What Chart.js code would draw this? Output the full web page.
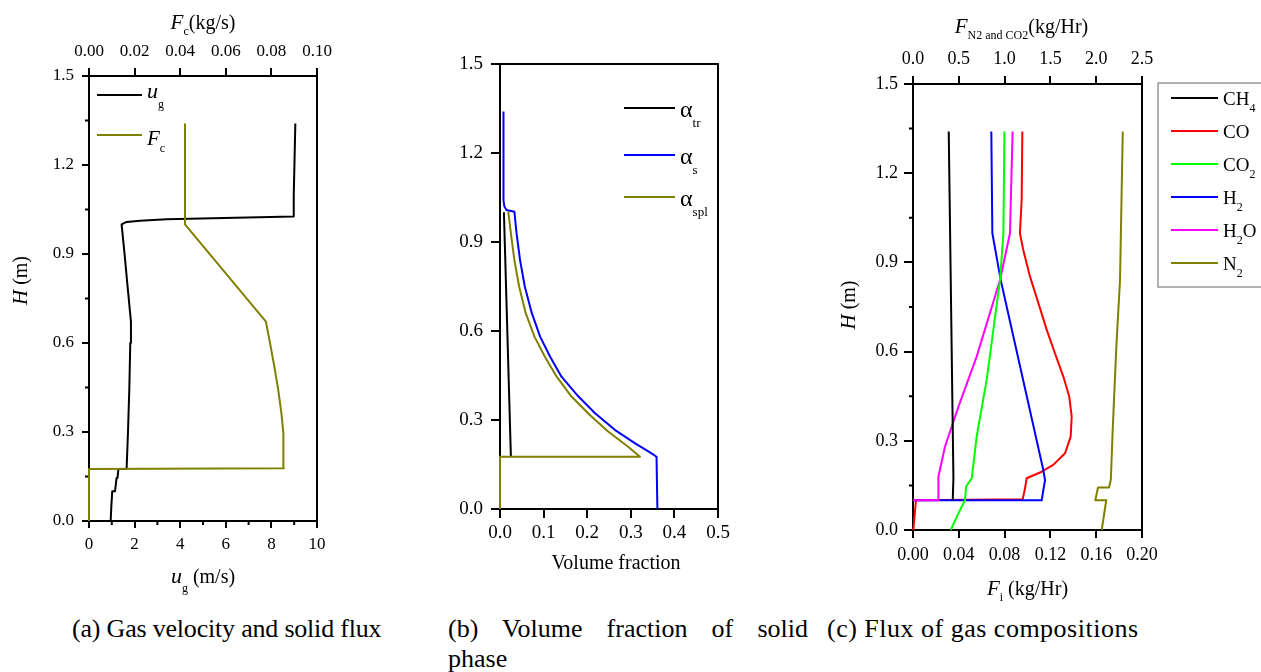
<!DOCTYPE html>
<html>
<head>
<meta charset="utf-8">
<script src="https://cdn.jsdelivr.net/npm/chart.js@4.4.0/dist/chart.umd.min.js"></script>
<style>
  body { margin: 0; background: #fff; width: 1261px; height: 672px; overflow: hidden; position: relative; font-family: 'Liberation Serif', serif; }
  canvas { position: absolute; top: 0; }
  .cap { position: absolute; font-size: 26px; line-height: 30px; color: #000; white-space: nowrap; }
</style>
</head>
<body>
<canvas id="chartA" width="340" height="605" style="left:0px"></canvas>
<canvas id="chartB" width="330" height="605" style="left:420px"></canvas>
<canvas id="chartC" width="461" height="605" style="left:800px"></canvas>
<div class="cap" style="left:72px;top:614px;letter-spacing:-0.2px">(a) Gas velocity and solid flux</div>
<div class="cap" style="left:448px;top:614px;width:360px;text-align:justify;text-align-last:justify;white-space:normal">(b) Volume fraction of solid</div>
<div class="cap" style="left:448px;top:644px">phase</div>
<div class="cap" style="left:827px;top:614px;letter-spacing:0.5px">(c) Flux of gas compositions</div>
<script>
// (a) gas velocity (m/s, bottom axis) and solid flux (kg/s, top axis) vs height H (m)
const ugHeight = [0, 0.05, 0.10, 0.10, 0.145, 0.145, 0.175, 0.175, 0.30, 0.45, 0.60, 0.672, 0.80, 0.90, 1.00, 1.008, 1.012, 1.017, 1.026, 1.10, 1.20, 1.34];
const ugVel    = [0.95, 0.98, 1.02, 1.14, 1.21, 1.25, 1.29, 1.65, 1.71, 1.77, 1.81, 1.84, 1.68, 1.56, 1.43, 1.65, 2.24, 3.4, 8.96, 8.98, 9.01, 9.05];
const fcHeight = [0, 0.175, 0.178, 0.228, 0.296, 0.363, 0.442, 0.520, 0.599, 0.672, 1.00, 1.34];
const fcFlux   = [0, 0, 0.0855, 0.0854, 0.0851, 0.0844, 0.0830, 0.0813, 0.0794, 0.0776, 0.0421, 0.0421];

// (b) volume fractions vs H
const trHeight  = [0.176, 1.00];
const trFrac    = [0.025, 0.009];
const sHeight   = [0, 0.176, 0.191, 0.221, 0.266, 0.323, 0.379, 0.446, 0.513, 0.581, 0.660, 0.749, 0.839, 0.929, 1.002, 1.008, 1.02, 1.04, 1.34];
const sFrac     = [0.361, 0.359, 0.344, 0.310, 0.264, 0.218, 0.180, 0.141, 0.115, 0.092, 0.073, 0.057, 0.046, 0.038, 0.033, 0.015, 0.010, 0.008, 0.008];
const splHeight = [0, 0.176, 0.176, 0.210, 0.261, 0.317, 0.379, 0.446, 0.513, 0.581, 0.660, 0.749, 0.839, 0.929, 1.002];
const splFrac   = [0, 0, 0.321, 0.294, 0.248, 0.206, 0.164, 0.130, 0.103, 0.079, 0.059, 0.044, 0.033, 0.025, 0.019];

// (c) gas flux vs H; CH4, CO, H2, H2O on bottom axis (kg/Hr), CO2 and N2 on top axis
const ch4H = [0.10, 0.175, 1.34];
const ch4F = [0.0347, 0.0353, 0.0312];
const coH  = [0, 0.10, 0.103, 0.140, 0.174, 0.196, 0.219, 0.258, 0.314, 0.381, 0.448, 0.516, 0.594, 0.673, 0.763, 0.852, 0.942, 0.998, 1.11, 1.34];
const coF  = [0.0003, 0.0026, 0.0958, 0.0978, 0.0993, 0.1124, 0.1225, 0.1328, 0.1377, 0.1386, 0.1365, 0.1313, 0.1240, 0.1168, 0.1095, 0.1022, 0.0963, 0.0934, 0.0949, 0.0955];
const co2H = [0, 0.056, 0.101, 0.146, 0.174, 0.314, 0.505, 0.841, 0.998, 1.34];
const co2F = [0.411, 0.496, 0.568, 0.579, 0.641, 0.695, 0.804, 0.95, 0.987, 0.998];
const h2H  = [0.10, 0.10, 0.168, 0.202, 0.841, 0.998, 1.34];
const h2F  = [0, 0.1124, 0.1153, 0.1138, 0.0766, 0.0693, 0.0684];
const h2oH = [0.10, 0.10, 0.179, 0.280, 0.415, 0.583, 0.841, 0.998, 1.34];
const h2oF = [0, 0.0222, 0.0222, 0.0279, 0.0397, 0.0556, 0.076, 0.0847, 0.0870];
const n2H  = [0, 0.10, 0.10, 0.143, 0.143, 0.170, 0.336, 0.617, 0.841, 1.34];
const n2F  = [2.06, 2.11, 1.99, 2.02, 2.14, 2.16, 2.18, 2.22, 2.26, 2.29];

// legend labels of (c): [main, subscript, tail]
const gasLabels = [['CH', '4', ''], ['CO', '', ''], ['CO', '2', ''], ['H', '2', ''], ['H', '2', 'O'], ['N', '2', '']];
const gasColors = ['#000000', '#ff0000', '#00ff00', '#0000ff', '#ff00ff', '#808000'];

const SERIF = "'Liberation Serif', 'Times New Roman', serif";
Chart.defaults.font.family = SERIF;
Chart.defaults.color = '#000';

// text with subscripts, segs = [{t, f, dy}]
function rich(ctx, segs, x, y, align) {
    let w = 0;
    segs.forEach(s => { ctx.font = s.f; s.w = ctx.measureText(s.t).width; w += s.w; });
    let cx = align === 'center' ? x - w / 2 : x;
    ctx.textAlign = 'left';
    ctx.textBaseline = 'alphabetic';
    ctx.fillStyle = '#000';
    segs.forEach(s => { ctx.font = s.f; ctx.fillText(s.t, cx, y + (s.dy || 0)); cx += s.w; });
}
function vertTitle(ctx, segs, x, y) {
    ctx.save();
    ctx.translate(x, y);
    ctx.rotate(-Math.PI / 2);
    rich(ctx, segs, 0, 0, 'center');
    ctx.restore();
}
function legLine(ctx, x1, x2, y, color) {
    ctx.strokeStyle = color; ctx.lineWidth = 2;
    ctx.beginPath(); ctx.moveTo(x1, y); ctx.lineTo(x2, y); ctx.stroke();
}

function axis(pos, min, max, step, dec, size, tickLen, pad, fit) {
    return {
        type: 'linear', position: pos, min: min, max: max,
        border: { display: false },
        grid: { drawOnChartArea: false, drawTicks: true, tickLength: tickLen, color: '#000', lineWidth: 2 },
        ticks: { stepSize: step, padding: pad, color: '#000', font: { family: SERIF, size: size }, maxRotation: 0, autoSkip: false,
                 callback: v => Number(v).toFixed(dec) },
        afterFit: s => { if (pos === 'left') s.width = fit; else s.height = fit; }
    };
}

function line(label, xs, ys, color, xAxisID, order) {
    return {
        label: label, data: xs.map((x, i) => ({ x: x, y: ys[i] })),
        borderColor: color, borderWidth: 2, pointRadius: 0, fill: false, tension: 0,
        borderJoinStyle: 'round',
        xAxisID: xAxisID, yAxisID: 'y', clip: 6, order: order
    };
}

// frame, minor ticks and hand drawn titles / legends
function extras(minor, draw) {
    return {
        id: 'extras',
        beforeDatasetsDraw(chart) {
            const ctx = chart.ctx, a = chart.chartArea;
            ctx.save();
            ctx.strokeStyle = '#000'; ctx.lineWidth = 2;
            ctx.strokeRect(a.left, a.top, a.right - a.left, a.bottom - a.top);
            minor.forEach(m => {
                const sc = chart.scales[m.id];
                ctx.beginPath();
                for (let v = sc.min + m.step; v < sc.max; v += 2 * m.step) {
                    const p = sc.getPixelForValue(v);
                    if (sc.isHorizontal()) { ctx.moveTo(p, a.bottom); ctx.lineTo(p, a.bottom + m.len); }
                    else { ctx.moveTo(a.left, p); ctx.lineTo(a.left - m.len, p); }
                }
                ctx.stroke();
            });
            ctx.restore();
        },
        afterDraw(chart) {
            const ctx = chart.ctx;
            ctx.save();
            draw(ctx, chart.chartArea, chart);
            ctx.restore();
        }
    };
}

function baseOptions(scales, padding) {
    return {
        responsive: false, devicePixelRatio: 1, animation: false, events: [],
        layout: { padding: padding },
        plugins: { legend: { display: false }, tooltip: { enabled: false } },
        scales: scales
    };
}

const f20 = '20px ' + SERIF, i21 = 'italic 21px ' + SERIF, s12 = '12px ' + SERIF;

// ---------- (a)
new Chart(document.getElementById('chartA'), {
    type: 'line',
    data: { datasets: [
        line('Fc', fcFlux, fcHeight, '#808000', 'x2', 0),
        line('ug', ugVel, ugHeight, '#000000', 'x', 1)
    ] },
    options: baseOptions({
        x:  axis('bottom', 0, 10, 2, 0, 17, 7, 6, 84),
        x2: axis('top', 0, 0.1, 0.02, 2, 17, 8, 6, 76),
        y:  axis('left', 0, 1.5, 0.3, 1, 17, 7, 8, 89)
    }, { left: 0, right: 23, top: 0, bottom: 0 }),
    plugins: [extras([{ id: 'y', step: 0.15, len: 4 }, { id: 'x', step: 1, len: 4 }], (ctx, a) => {
        const cx = (a.left + a.right) / 2, cy = (a.top + a.bottom) / 2;
        rich(ctx, [{ t: 'F', f: i21 }, { t: 'c', f: s12, dy: 6 }, { t: '(kg/s)', f: f20 }], cx, a.top - 47, 'center');
        rich(ctx, [{ t: 'u', f: 'italic 22px ' + SERIF }, { t: 'g', f: s12, dy: 9 }, { t: ' (m/s)', f: f20 }], cx, a.bottom + 62, 'center');
        vertTitle(ctx, [{ t: 'H', f: i21 }, { t: ' (m)', f: f20 }], a.left - 62, cy - 18);
        legLine(ctx, a.left + 8, a.left + 53, a.top + 19, '#000');
        rich(ctx, [{ t: 'u', f: 'italic 22px ' + SERIF }, { t: 'g', f: s12, dy: 10 }], a.left + 58, a.top + 22);
        legLine(ctx, a.left + 8, a.left + 53, a.top + 59, '#808000');
        rich(ctx, [{ t: 'F', f: i21 }, { t: 'c', f: s12, dy: 7 }], a.left + 58, a.top + 69);
    })]
});

// ---------- (b)
new Chart(document.getElementById('chartB'), {
    type: 'line',
    data: { datasets: [
        line('a_spl', splFrac, splHeight, '#808000', 'x', 0),
        line('a_s', sFrac, sHeight, '#0000ff', 'x', 1),
        line('a_tr', trFrac, trHeight, '#000000', 'x', 2)
    ] },
    options: baseOptions({
        x: axis('bottom', 0, 0.5, 0.1, 1, 19, 9, 4, 96),
        y: axis('left', 0, 1.5, 0.3, 1, 19, 9, 8, 80)
    }, { left: 0, right: 32, top: 64, bottom: 0 }),
    plugins: [extras([], (ctx, a) => {
        const cx = (a.left + a.right) / 2;
        rich(ctx, [{ t: 'Volume fraction', f: f20 }], cx + 7, a.bottom + 60, 'center');
        const alpha = '24px ' + SERIF, sub = '13px ' + SERIF;
        [['tr', '#000000', 44], ['s', '#0000ff', 91], ['spl', '#808000', 133]].forEach(r => {
            legLine(ctx, a.left + 124, a.left + 175, a.top + r[2], r[1]);
            rich(ctx, [{ t: 'α', f: alpha }, { t: r[0], f: sub, dy: 10 }], a.left + 180, a.top + r[2] + 9);
        });
    })]
});

// ---------- (c)
new Chart(document.getElementById('chartC'), {
    type: 'line',
    data: { datasets: [
        line('CH4', ch4F, ch4H, gasColors[0], 'x', 0),
        line('CO', coF, coH, gasColors[1], 'x', 4),
        line('CO2', co2F, co2H, gasColors[2], 'x2', 1),
        line('H2', h2F, h2H, gasColors[3], 'x', 3),
        line('H2O', h2oF, h2oH, gasColors[4], 'x', 2),
        line('N2', n2F, n2H, gasColors[5], 'x2', 0)
    ] },
    options: baseOptions({
        x:  axis('bottom', 0, 0.2, 0.04, 2, 18, 8, 6, 75),
        x2: axis('top', 0, 2.5, 0.5, 1, 18, 8, 6, 84),
        y:  axis('left', 0, 1.5, 0.3, 1, 18, 9, 6, 113)
    }, { left: 0, right: 119, top: 0, bottom: 0 }),
    plugins: [extras([{ id: 'y', step: 0.15, len: 4 }], (ctx, a, chart) => {
        const cx = (a.left + a.right) / 2, cy = (a.top + a.bottom) / 2;
        rich(ctx, [{ t: 'F', f: i21 }, { t: 'N2 and CO2', f: s12, dy: 6 }, { t: '(kg/Hr)', f: f20 }], cx - 6, a.top - 51, 'center');
        rich(ctx, [{ t: 'F', f: i21 }, { t: 'i', f: s12, dy: 6 }, { t: ' (kg/Hr)', f: f20 }], cx, a.bottom + 65, 'center');
        vertTitle(ctx, [{ t: 'H', f: i21 }, { t: ' (m)', f: f20 }], a.left - 58, cy - 2);
        // legend box
        ctx.strokeStyle = '#999'; ctx.lineWidth = 1.5;
        ctx.strokeRect(a.right + 16, a.top - 1, chart.width - a.right, 204);
        const f19 = '19px ' + SERIF;
        gasLabels.forEach((g, i) => {
            const y = a.top + 14 + 33 * i;
            legLine(ctx, a.right + 29, a.right + 76, y, gasColors[i]);
            rich(ctx, [{ t: g[0], f: f19 }, { t: g[1], f: s12, dy: 7 }, { t: g[2], f: f19 }], a.right + 81, y + 7);
        });
    })]
});
</script>
</body>
</html>
